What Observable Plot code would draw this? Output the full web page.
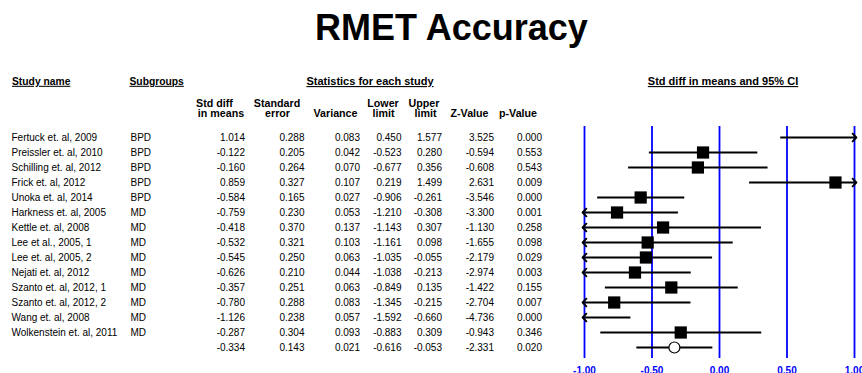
<!DOCTYPE html>
<html>
<head>
<meta charset="utf-8">
<script src="https://cdn.jsdelivr.net/npm/d3@7"></script>
<script src="https://cdn.jsdelivr.net/npm/@observablehq/plot@0.6"></script>
<style>
  html, body { margin: 0; padding: 0; background: #fff; overflow: hidden; }
  #title {
    font: bold 36px "Liberation Sans", Arial, sans-serif;
    width: 862px; height: 55px; line-height: 55px; box-sizing: border-box;
    padding-left: 41px; text-align: center; color: #000;
  }
  #chart svg { display: block; }
</style>
</head>
<body>
<div id="title">RMET Accuracy</div>
<div id="chart"></div>
<script>
// Per-study statistics (standardized mean difference, RMET accuracy)
const studies = [
  "Fertuck et. al, 2009", "Preissler et. al, 2010", "Schilling et. al, 2012",
  "Frick et. al, 2012", "Unoka et. al, 2014", "Harkness et. al, 2005",
  "Kettle et. al, 2008", "Lee et al., 2005, 1", "Lee et. al, 2005, 2",
  "Nejati et. al, 2012", "Szanto et. al, 2012, 1", "Szanto et. al, 2012, 2",
  "Wang et. al, 2008", "Wolkenstein et. al, 2011"
];
const subgroups = ["BPD", "BPD", "BPD", "BPD", "BPD", "MD", "MD", "MD", "MD", "MD", "MD", "MD", "MD", "MD"];
const stdDiff    = [1.014, -0.122, -0.160, 0.859, -0.584, -0.759, -0.418, -0.532, -0.545, -0.626, -0.357, -0.780, -1.126, -0.287];
const stdErr     = [0.288, 0.205, 0.264, 0.327, 0.165, 0.230, 0.370, 0.321, 0.250, 0.210, 0.251, 0.288, 0.238, 0.304];
const variance   = [0.083, 0.042, 0.070, 0.107, 0.027, 0.053, 0.137, 0.103, 0.063, 0.044, 0.063, 0.083, 0.057, 0.093];
const lowerLimit = [0.450, -0.523, -0.677, 0.219, -0.906, -1.210, -1.143, -1.161, -1.035, -1.038, -0.849, -1.345, -1.592, -0.883];
const upperLimit = [1.577, 0.280, 0.356, 1.499, -0.261, -0.308, 0.307, 0.098, -0.055, -0.213, 0.135, -0.215, -0.660, 0.309];
const zValue     = [3.525, -0.594, -0.608, 2.631, -3.546, -3.300, -1.130, -1.655, -2.179, -2.974, -1.422, -2.704, -4.736, -0.943];
const pValue     = [0.000, 0.553, 0.543, 0.009, 0.000, 0.001, 0.258, 0.098, 0.029, 0.003, 0.155, 0.007, 0.000, 0.346];

// Pooled estimate
const pooled = {stdDiff: -0.334, stdErr: 0.143, variance: 0.021, lower: -0.616, upper: -0.053, z: -2.331, p: 0.020};

const axisTicks = [-1, -0.5, 0, 0.5, 1];

// Table rows
const rows = studies.map((s, i) => ({
  key: s, study: s, subgroup: subgroups[i],
  stdDiff: stdDiff[i], stdErr: stdErr[i], variance: variance[i],
  lower: lowerLimit[i], upper: upperLimit[i], z: zValue[i], p: pValue[i]
}));
const pooledRow = {key: "Pooled", study: "", subgroup: "", ...pooled};
const allRows = [...rows, pooledRow];
const rowKeys = allRows.map(d => d.key);

// Layout of the statistics table (pixel columns)
const numericColumns = [
  {field: "stdDiff",  right: 244.5},
  {field: "stdErr",   right: 304},
  {field: "variance", right: 359.5},
  {field: "lower",    right: 401},
  {field: "upper",    right: 441.5},
  {field: "z",        right: 493.5},
  {field: "p",        right: 541.5}
];
const columnHeaders = [
  {text: "Std diff", center: 214, line: 0},
  {text: "in means", center: 220.5, line: 1},
  {text: "Standard", center: 276.5, line: 0},
  {text: "error", center: 277, line: 1},
  {text: "Variance", center: 335, line: 1},
  {text: "Lower", center: 382.5, line: 0},
  {text: "limit", center: 383, line: 1},
  {text: "Upper", center: 423.5, line: 0},
  {text: "limit", center: 425, line: 1},
  {text: "Z-Value", center: 469, line: 1},
  {text: "p-Value", center: 517.5, line: 1}
];
const groupHeaders = [
  {label: "Study name", x: 11.5, anchor: "start", size: 10.3},
  {label: "Subgroups", x: 129, anchor: "start", size: 10.3},
  {label: "Statistics for each study", x: 369.5, anchor: "middle", size: 11},
  {label: "Std diff in means and 95% CI", x: 722.5, anchor: "middle", size: 11}
];

// Confidence intervals clipped to the plotted range, with arrows where they run off
const ci = allRows.map(d => ({
  key: d.key,
  x1: Math.max(d.lower, -1), x2: Math.min(d.upper, 1),
  offLow: d.lower < -1, offHigh: d.upper > 1
}));
const ciLine = {x1: "x1", x2: "x2", y1: "key", y2: "key", stroke: "#000", strokeWidth: 1.9};

const fmt3 = v => v.toFixed(3);

const marks = [
  Plot.ruleX(axisTicks, {stroke: "#0000ff", strokeWidth: 1.8}),
  Plot.axisX({ticks: axisTicks, tickSize: 0, tickPadding: 8, tickFormat: d => d.toFixed(2),
              fill: "#0000ff", fontWeight: "bold", label: null, anchor: "bottom"}),

  Plot.link(ci.filter(d => !d.offLow && !d.offHigh), ciLine),
  Plot.link(ci.filter(d => d.offLow && !d.offHigh), {...ciLine, markerStart: "arrow-reverse"}),
  Plot.link(ci.filter(d => !d.offLow && d.offHigh), {...ciLine, markerEnd: "arrow"}),
  Plot.link(ci.filter(d => d.offLow && d.offHigh), {...ciLine, markerStart: "arrow-reverse", markerEnd: "arrow"}),

  Plot.dot(rows.filter(d => d.stdDiff >= -1 && d.stdDiff <= 1),
           {x: "stdDiff", y: "key", symbol: "square", r: 6.9, fill: "#000"}),
  Plot.dot([pooledRow], {x: "stdDiff", y: "key", r: 5.5, fill: "#fff", stroke: "#000", strokeWidth: 1.2}),

  Plot.text(allRows, {y: "key", text: "study", frameAnchor: "left", dx: 11, textAnchor: "start", fill: "#000"}),
  Plot.text(allRows, {y: "key", text: "subgroup", frameAnchor: "left", dx: 130, textAnchor: "start", fill: "#000"}),
  ...numericColumns.map(c =>
    Plot.text(allRows, {y: "key", text: d => fmt3(d[c.field]), frameAnchor: "left",
                        dx: c.right, textAnchor: "end", fill: "#000"})),

  ...groupHeaders.map(h =>
    Plot.text([h.label], {text: d => d, frameAnchor: "top-left", dx: h.x, dy: -45,
                          textAnchor: h.anchor, lineAnchor: "middle", fontWeight: "bold",
                          fontSize: h.size, fill: "#000"})),
  ...columnHeaders.map(h =>
    Plot.text([h.text], {text: d => d, frameAnchor: "top-left", dx: h.center, dy: h.line === 0 ? -23.3 : -12.7,
                         textAnchor: "middle", lineAnchor: "middle", fontWeight: "bold",
                         fontSize: 10.7, fill: "#000"}))
];

const chart = Plot.plot({
  width: 862,
  height: 330,
  marginTop: 71,
  marginBottom: 27,
  marginLeft: 0,
  marginRight: 0,
  style: {fontFamily: "'Liberation Sans', Arial, sans-serif", fontSize: "10px", color: "#000", background: "#fff"},
  x: {domain: [-1, 1], range: [584, 854]},
  y: {type: "point", domain: rowKeys, range: [78, 296], padding: 0, axis: null},
  marks
});

// Underline the section headings
const headingLabels = new Set(groupHeaders.map(h => h.label));
d3.select(chart).selectAll("text")
  .filter(function() { return headingLabels.has(this.textContent); })
  .style("text-decoration", "underline");

document.getElementById("chart").appendChild(chart);
</script>
</body>
</html>
